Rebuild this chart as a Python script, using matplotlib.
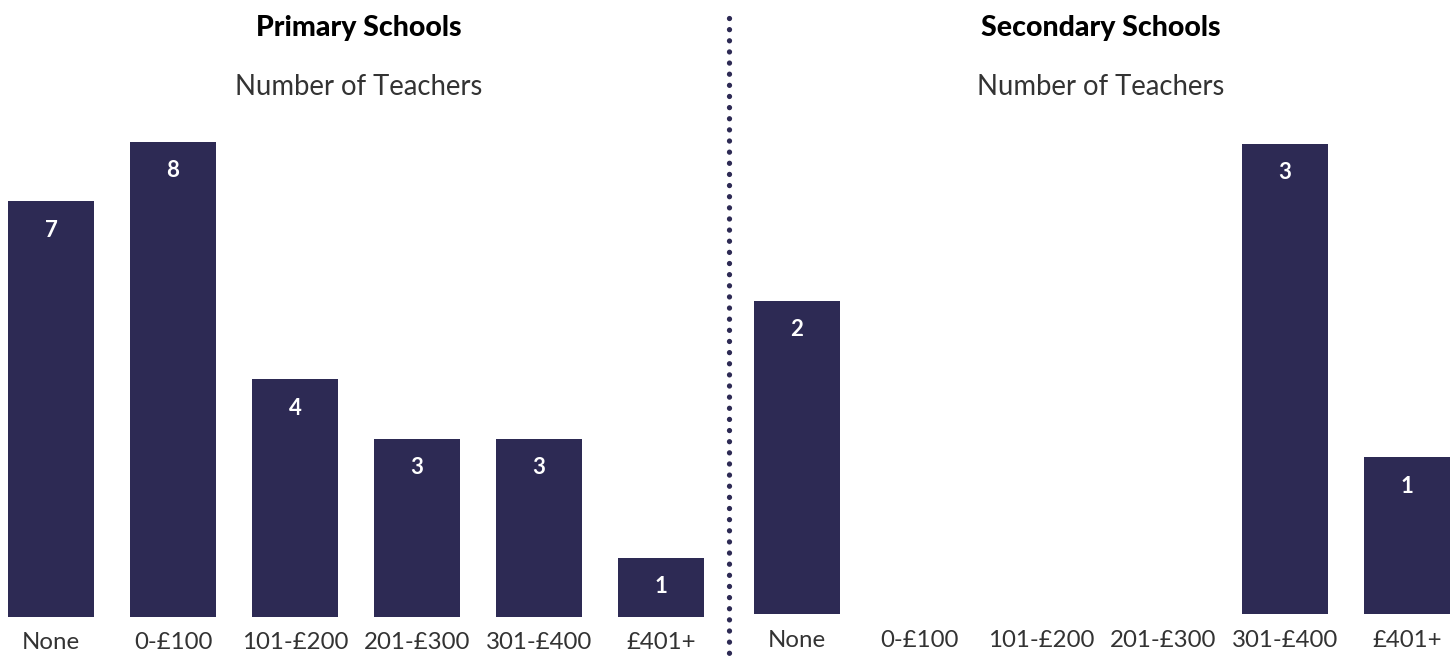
import matplotlib.pyplot as plt
from matplotlib.lines import Line2D

categories = ["None", "0-£100", "101-£200", "201-£300", "301-£400", "£401+"]
primary = [7, 8, 4, 3, 3, 1]
secondary = [2, 0, 0, 0, 3, 1]

bar_color = "#2d2a54"
text_color = "#333333"
plt.rcParams["font.family"] = ["Lato", "DejaVu Sans"]

W, H = 1452, 656
fig = plt.figure(figsize=(W / 100, H / 100), dpi=100)


def panel(left_px, right_px, base_px, top_px, xlim, ylim, values, title, cx, pad):
    ax = fig.add_axes([left_px / W, base_px / H, (right_px - left_px) / W, (top_px - base_px) / H])
    x = range(len(categories))
    bars = ax.bar(x, values, width=0.705, color=bar_color)
    ax.set_xlim(*xlim)
    ax.set_ylim(*ylim)
    ax.set_xticks(list(x))
    ax.set_xticklabels(categories, fontsize=17.3, color=text_color)
    ax.tick_params(axis="x", length=0, pad=pad)
    ax.set_yticks([])
    for s in ax.spines.values():
        s.set_visible(False)
    for b, v in zip(bars, values):
        if v > 0:
            ax.annotate(str(v), (b.get_x() + b.get_width() / 2, v), xytext=(0, -29),
                        textcoords="offset pixels", ha="center", va="center",
                        color="white", fontsize=16, fontweight="bold")
    fig.text(cx / W, 1 - 28 / H, title, ha="center", va="center", fontsize=20.5,
             fontweight="black", color="black")
    fig.text(cx / W, 1 - 87 / H, "Number of Teachers", ha="center", va="center",
             fontsize=19.8, color=text_color)
    return ax


panel(0, 722, 39, 39 + 8.4 * 59.4, (-51 / 122, (722 - 51) / 122), (0, 8.4),
      primary, "Primary Schools", 359, 10.5)
panel(736, 1452, 42, 42 + 3.2 * 156.7, ((736 - 797) / 122, (1452 - 797) / 122), (0, 3.2),
      secondary, "Secondary Schools", 1101, 11.8)

# dotted divider
fig.add_artist(Line2D([729 / W, 729 / W], [1 - 18 / H, 0], transform=fig.transFigure,
                      color=bar_color, linewidth=3.8, linestyle=(0, (0.01, 2.1)),
                      dash_capstyle="round"))

fig.savefig("out.png", dpi=100)
